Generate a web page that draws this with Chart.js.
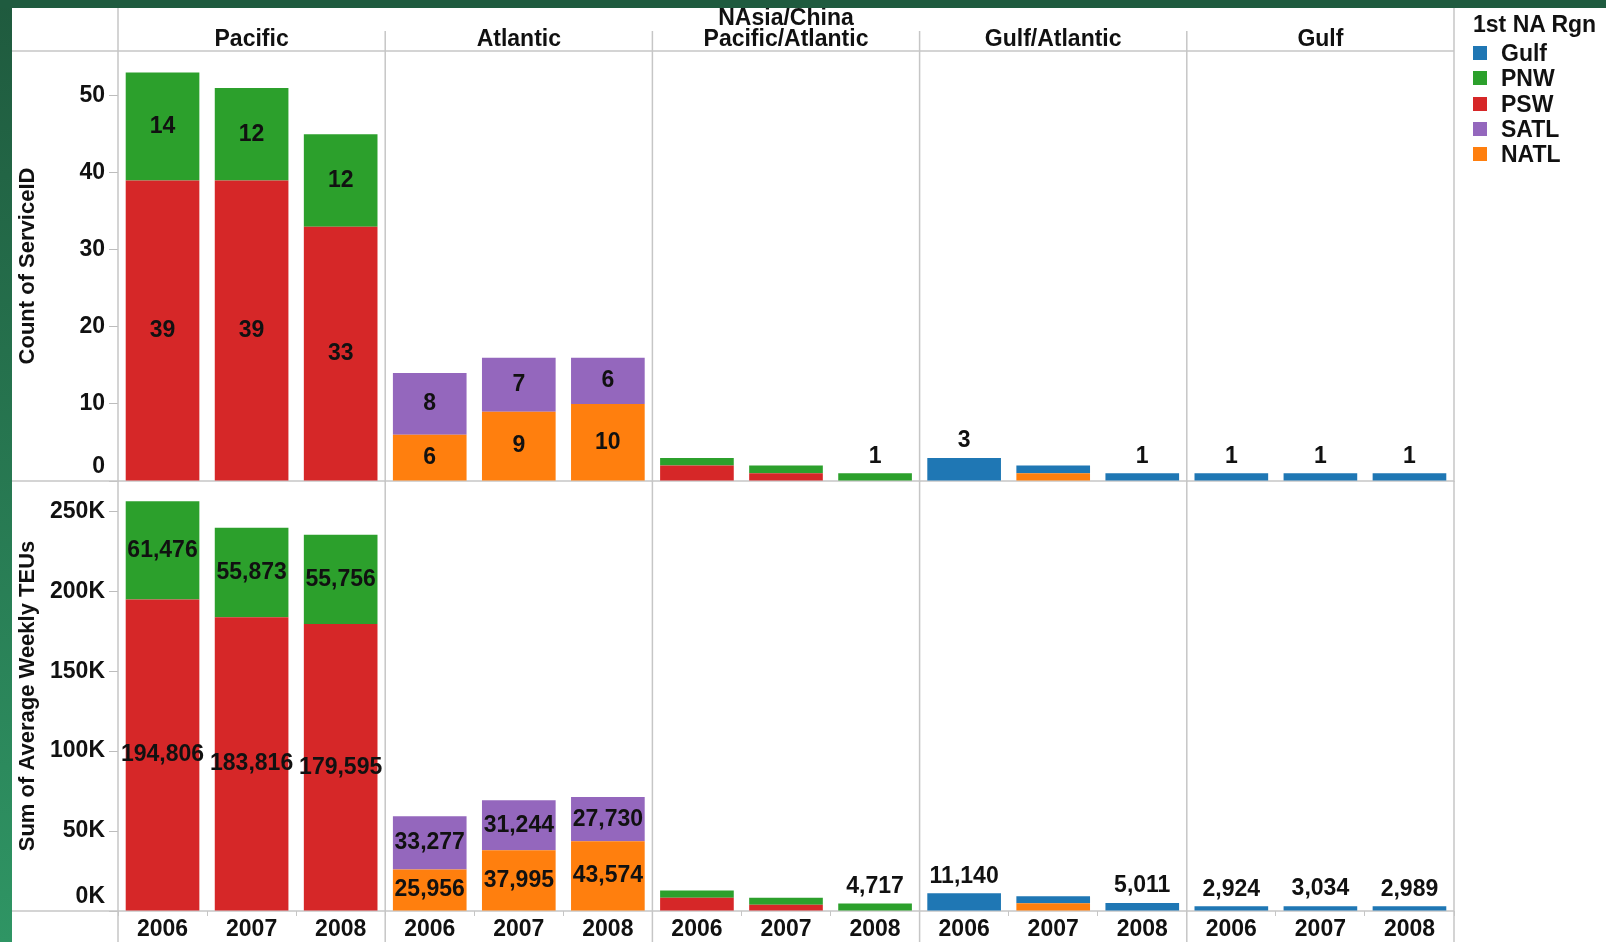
<!DOCTYPE html>
<html><head><meta charset="utf-8">
<script src="https://cdn.jsdelivr.net/npm/chart.js@4.4.1/dist/chart.umd.min.js"></script>
<style>
html,body{margin:0;padding:0;background:#fff;width:1606px;height:942px;overflow:hidden;font-family:"Liberation Sans",Arial,sans-serif;}
#leftband{position:absolute;left:0;top:0;width:12px;height:942px;background:linear-gradient(#1f5a3e,#2f9564);z-index:3;}
#topband{position:absolute;left:0;top:0;width:1606px;height:8px;background:#1f5b3f;z-index:3;}
canvas{position:absolute;left:0;}
.hdr{position:absolute;font-weight:bold;font-size:23px;color:#111;text-align:center;line-height:21.6px;white-space:nowrap;transform:translateX(-50%);z-index:2;}
#legend{position:absolute;left:1473px;top:0;z-index:2;}
#legend .ttl{position:absolute;left:0;top:13px;font-weight:bold;font-size:23px;line-height:22px;color:#111;white-space:nowrap;}
#legend .it{position:absolute;left:0;font-weight:bold;font-size:23px;line-height:22px;color:#111;white-space:nowrap;}
#legend .sw{position:absolute;left:0;top:4px;width:14px;height:14px;}
#legend .tx{position:absolute;left:28px;top:0;}
</style></head>
<body>
<div id="leftband"></div><div id="topband"></div>
<canvas id="cTop" width="1457" height="474" style="top:8px"></canvas>
<canvas id="cBot" width="1457" height="461" style="top:481px"></canvas>
<div id="headers"></div>
<div id="legend"></div>
<script>
// ---------------- data ----------------
const panels = ['Pacific', 'Atlantic', 'NAsia/China\nPacific/Atlantic', 'Gulf/Atlantic', 'Gulf'];
const years = ['2006', '2007', '2008'];
const categories = panels.flatMap(() => years);

// Count of ServiceID (5 panels x 3 years)
const countGulf = [null,null,null, null,null,null, null,null,null, 3,1,1, 1,1,1];
const countPNW  = [14,12,12,       null,null,null, 1,1,1,          null,null,null, null,null,null];
const countPSW  = [39,39,33,       null,null,null, 2,1,null,       null,null,null, null,null,null];
const countSATL = [null,null,null, 8,7,6,          null,null,null, null,null,null, null,null,null];
const countNATL = [null,null,null, 6,9,10,         null,null,null, null,1,null,    null,null,null];

// Sum of Average Weekly TEUs
const teuGulf = [null,null,null,       null,null,null,       null,null,null,    11140,4400,5011, 2924,3034,2989];
const teuPNW  = [61476,55873,55756,    null,null,null,       4500,4400,4717,    null,null,null,  null,null,null];
const teuPSW  = [194806,183816,179595, null,null,null,       8300,3850,null,    null,null,null,  null,null,null];
const teuSATL = [null,null,null,       33277,31244,27730,    null,null,null,    null,null,null,  null,null,null];
const teuNATL = [null,null,null,       25956,37995,43574,    null,null,null,    null,4900,null,  null,null,null];

const countTicks = [0, 10, 20, 30, 40, 50];
const teuTicks = [0, 50000, 100000, 150000, 200000, 250000];
const countMax = 55.8;
const teuMax = 269000;

const legendNames = ['Gulf', 'PNW', 'PSW', 'SATL', 'NATL'];
const colors = {Gulf:'#1f77b4', PNW:'#2ca02c', PSW:'#d62728', SATL:'#9467bd', NATL:'#ff7f0e'};

// ---------------- chart ----------------
const FONT = '"Liberation Sans", Arial, sans-serif';
Chart.defaults.font.family = FONT;
Chart.defaults.color = '#111';
const LINE = '#c6c6c6';

const labelPlugin = {
  id: 'segLabels',
  afterDatasetsDraw(chart, args, o) {
    const ctx = chart.ctx;
    ctx.save();
    ctx.font = 'bold 23px ' + FONT;
    ctx.fillStyle = '#111';
    ctx.textAlign = 'center';
    ctx.textBaseline = 'middle';
    const n = chart.data.labels.length;
    for (let i = 0; i < n; i++) {
      const segs = [];
      chart.data.datasets.forEach((ds, di) => {
        const v = ds.data[i];
        if (v != null && v > 0) segs.push({v, el: chart.getDatasetMeta(di).data[i]});
      });
      segs.forEach(s => {
        const el = s.el;
        const top = Math.min(el.y, el.base), bot = Math.max(el.y, el.base);
        const txt = s.v.toLocaleString('en-US');
        if (segs.length === 1) ctx.fillText(txt, el.x, top - 17);
        else if (bot - top >= 26) ctx.fillText(txt, el.x, (top + bot) / 2);
      });
    }
    // zero tick label, lifted above the baseline
    const ca = chart.chartArea;
    ctx.textAlign = 'right';
    ctx.fillText(o.zero, ca.left - 13, ca.bottom - 14);
    ctx.restore();
  }
};

const framePlugin = {
  id: 'frame',
  beforeDatasetsDraw(chart, args, o) {
    const {ctx, chartArea: ca, scales: {x}} = chart;
    ctx.save();
    ctx.strokeStyle = LINE;
    ctx.lineWidth = 1.5;
    const line = (x0, y0, x1, y1) => { ctx.beginPath(); ctx.moveTo(x0, y0); ctx.lineTo(x1, y1); ctx.stroke(); };
    const half = (x.getPixelForValue(1) - x.getPixelForValue(0)) / 2;
    for (let p = 0; p <= panels.length; p++) {
      const px = p < panels.length ? x.getPixelForValue(p * 3) - half : x.getPixelForValue(panels.length * 3 - 1) + half;
      const y0 = (p === 0 || p === panels.length) ? 0 : o.innerTop;
      line(px, y0, px, chart.height);
    }
    o.hLines.forEach(k => {
      const y = k === 'top' ? ca.top : ca.bottom;
      line(12, y, ca.right, y);
    });
    ctx.restore();
  }
};

function makeDatasets(vals) {
  // stacking order (bottom first): NATL, PSW, PNW, SATL, Gulf
  return ['NATL', 'PSW', 'PNW', 'SATL', 'Gulf'].map(k => ({
    label: k, data: vals[k], backgroundColor: colors[k], borderWidth: 0,
    categoryPercentage: 1, barPercentage: 0.827
  }));
}

function yScale(max, ticks, title, fmt) {
  return {
    stacked: true, min: 0, max: max,
    afterBuildTicks: s => { s.ticks = ticks.map(v => ({value: v})); },
    afterFit: s => { s.width = 118; s.paddingTop = 0; s.paddingBottom = 0; },
    grid: {drawOnChartArea: false, drawTicks: true, tickLength: 9, color: '#bdbdbd', lineWidth: 1},
    border: {display: false},
    ticks: {padding: 4, color: '#111', font: {size: 23, weight: 'bold'}, callback: v => v === 0 ? '' : fmt(v)},
    title: {display: true, text: title, color: '#111', font: {size: 22, weight: 'bold'}, padding: {top: 15, bottom: 0}}
  };
}

const common = {
  responsive: false, maintainAspectRatio: false, animation: false, devicePixelRatio: 1,
  plugins: {legend: {display: false}, tooltip: {enabled: false}}
};

const chartTop = new Chart(document.getElementById('cTop'), {
  type: 'bar',
  data: {labels: categories, datasets: makeDatasets({NATL: countNATL, PSW: countPSW, PNW: countPNW, SATL: countSATL, Gulf: countGulf})},
  options: Object.assign({}, common, {
    layout: {autoPadding: false, padding: {top: 43, right: 3, bottom: 1, left: 0}},
    scales: {
      x: {stacked: true, display: false},
      y: yScale(countMax, countTicks, 'Count of ServiceID', v => String(v))
    },
    plugins: Object.assign({}, common.plugins, {frame: {innerTop: 23, hLines: ['top', 'bottom']}, segLabels: {zero: '0'}})
  }),
  plugins: [framePlugin, labelPlugin]
});

const chartBot = new Chart(document.getElementById('cBot'), {
  type: 'bar',
  data: {labels: categories, datasets: makeDatasets({NATL: teuNATL, PSW: teuPSW, PNW: teuPNW, SATL: teuSATL, Gulf: teuGulf})},
  options: Object.assign({}, common, {
    layout: {autoPadding: false, padding: {top: 0, right: 3, bottom: 0, left: 0}},
    scales: {
      x: {
        stacked: true,
        afterFit: s => { s.height = 31; s.paddingLeft = 0; s.paddingRight = 0; },
        grid: {drawOnChartArea: false, drawTicks: true, tickLength: 5, color: LINE, offset: true},
        border: {display: false},
        ticks: {autoSkip: false, maxRotation: 0, minRotation: 0, padding: 0, color: '#111', font: {size: 23, weight: 'bold'}}
      },
      y: yScale(teuMax, teuTicks, 'Sum of Average Weekly TEUs', v => (v / 1000) + 'K')
    },
    plugins: Object.assign({}, common.plugins, {frame: {innerTop: 0, hLines: ['bottom']}, segLabels: {zero: '0K'}})
  }),
  plugins: [framePlugin, labelPlugin]
});

// ---------------- headers (panel titles) ----------------
const hx = chartTop.scales.x;
const headers = document.getElementById('headers');
panels.forEach((p, i) => {
  const d = document.createElement('div');
  d.className = 'hdr';
  const lines = p.split('\n');
  d.innerHTML = lines.join('<br>');
  d.style.left = hx.getPixelForValue(i * 3 + 1) + 'px';
  d.style.top = (39 - 10.8 - (lines.length - 1) * 21.6) + 'px';
  headers.appendChild(d);
});

// ---------------- legend ----------------
const lg = document.getElementById('legend');
const t = document.createElement('div'); t.className = 'ttl'; t.textContent = '1st NA Rgn'; lg.appendChild(t);
legendNames.forEach((n, i) => {
  const it = document.createElement('div'); it.className = 'it';
  it.style.top = (53.3 - 11 + i * 25.1) + 'px';
  it.innerHTML = '<span class="sw" style="background:' + colors[n] + '"></span><span class="tx">' + n + '</span>';
  lg.appendChild(it);
});
</script>
</body></html>
